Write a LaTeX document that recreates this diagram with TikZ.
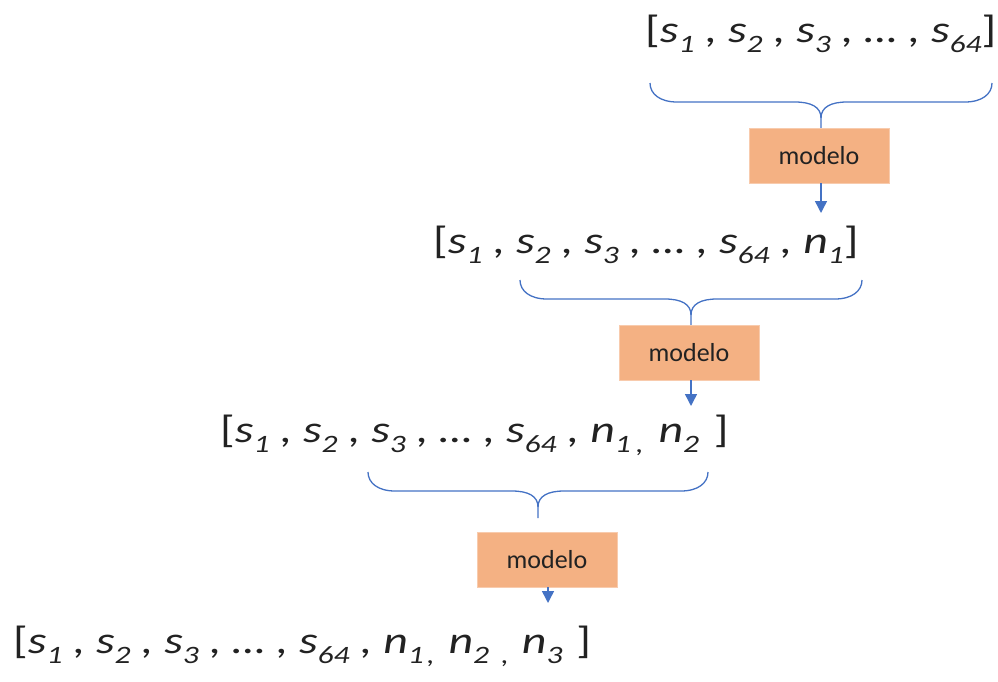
\documentclass[tikz,border=0pt]{standalone}
\usepackage{fontspec}
\setmainfont{Carlito}
\newfontfamily\rowfont[FakeStretch=1.26]{Carlito}
\usetikzlibrary{arrows.meta}
\definecolor{boxfill}{HTML}{F4B183}
\definecolor{boxline}{HTML}{F8CBAD}
\definecolor{blueline}{HTML}{4472C4}
\definecolor{txt}{HTML}{222222}
\newcommand\lo[1]{\raisebox{-10pt}{\fontsize{25}{25}\selectfont #1}}
\newcommand\up[1]{{\upshape #1}}
\newcommand\curlybrace[6]{%
  \draw[bracestyle] (#1,#4) .. controls (#1,{#5-8}) and ({#1+10},#5) .. ({#1+27},#5) -- ({#3-26},#5) .. controls ({#3-10},#5) and (#3,{#5+5}) .. (#3,{#5+16}) -- (#3,#6);
  \draw[bracestyle] (#2,#4) .. controls (#2,{#5-8}) and ({#2-10},#5) .. ({#2-27},#5) -- ({#3+26},#5) .. controls ({#3+10},#5) and (#3,{#5+5}) .. (#3,{#5+16});
}
\begin{document}
\begin{tikzpicture}[x=1pt,y=-1pt,
  rowtext/.style={inner sep=0pt, anchor=base west, text=txt, font=\rowfont\fontsize{38}{40}\selectfont\itshape},
  modelbox/.style={fill=boxfill, draw=boxline, line width=0.8pt, minimum width=140pt, minimum height=55pt, inner sep=0pt, text=txt, font=\fontsize{26}{28}\selectfont},
  bracestyle/.style={draw=blueline, line width=1.3pt},
  arr/.style={draw=blueline, line width=1.5pt, -{Triangle[width=12pt,length=12pt]}}]
\useasboundingbox (0,0) rectangle (998,682);
% rows
\node[rowtext] (r1) at (645,43) {\up{[}s\lo{1} , s\lo{2} , s\lo{3} , … , s\lo{64}\up{]}};
\node[rowtext] (r2) at (433,253) {\up{[}s\lo{1} , s\lo{2} , s\lo{3} , … , s\lo{64} , n\lo{1}\up{]}};
\node[rowtext] (r3) at (220,442) {\up{[}s\lo{1} , s\lo{2} , s\lo{3} , … , s\lo{64} , n\lo{1\hspace{5pt},}\hspace{4pt} n\lo{2}\hspace{4pt} \up{]}};
\node[rowtext] (r4) at (13,653) {\up{[}s\lo{1} , s\lo{2} , s\lo{3} , … , s\lo{64} , n\lo{1\hspace{3pt},}\hspace{3pt} n\lo{2\hspace{5pt} ,}\hspace{2pt} n\lo{3}\hspace{3pt} \up{]}};
% braces
\curlybrace{650}{992}{821}{83}{102}{128}
\curlybrace{520}{862}{691}{280}{299}{325}
\curlybrace{368}{708}{538}{472}{491}{518}
% boxes
\node[modelbox] (m1) at (819,155.5) {modelo};
\node[modelbox] (m2) at (689,352.5) {modelo};
\node[modelbox] (m3) at (547,559.5) {modelo};
% arrow ends
\coordinate (e1) at (821,213);
\coordinate (e2) at (691,406);
\coordinate (e3) at (548,603);
\draw[arr] (m1.south -| e1) -- (e1);
\draw[arr] (m2.south -| e2) -- (e2);
\draw[arr] (m3.south -| e3) -- (e3);
\end{tikzpicture}
\end{document}
